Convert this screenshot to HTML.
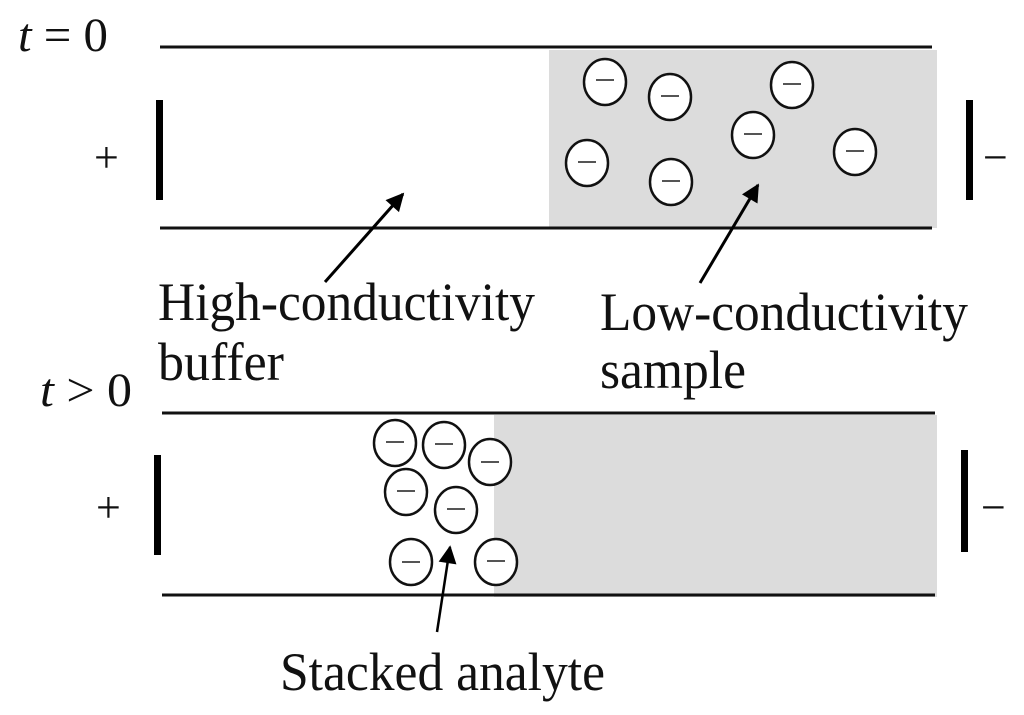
<!DOCTYPE html>
<html><head><meta charset="utf-8"><style>
html,body{margin:0;padding:0;background:#fff;width:1024px;height:715px;overflow:hidden}
text{font-family:"Liberation Serif",serif;fill:#111}
</style></head><body>
<svg width="1024" height="715" viewBox="0 0 1024 715" xmlns="http://www.w3.org/2000/svg">
<defs>
<marker id="ah2" viewBox="0 0 10 10" refX="9" refY="5" markerWidth="22" markerHeight="18" markerUnits="userSpaceOnUse" orient="auto"><path d="M0,0 L10,5 L0,10 z" fill="#000"/></marker></defs>
<!-- top panel -->
<rect x="549" y="50" width="388" height="178" fill="#dcdcdc"/>
<line x1="160" y1="47" x2="932" y2="47" stroke="#111" stroke-width="3"/>
<line x1="160" y1="228" x2="932" y2="228" stroke="#111" stroke-width="3"/>
<rect x="156" y="100" width="7" height="100" fill="#000"/>
<rect x="966" y="100" width="7" height="100" fill="#000"/>
<text x="94" y="172" font-size="44">+</text>
<text x="983" y="172" font-size="44">−</text>
<text x="18" y="51" font-size="48" textLength="90" lengthAdjust="spacingAndGlyphs"><tspan font-style="italic">t</tspan> = 0</text>
<g fill="#fff" stroke="#111" stroke-width="2.5">
<ellipse cx="605" cy="82" rx="21" ry="23"/><ellipse cx="670" cy="97" rx="21" ry="23"/>
<ellipse cx="792" cy="85" rx="21" ry="23"/><ellipse cx="753" cy="135" rx="21" ry="23"/>
<ellipse cx="855" cy="152" rx="21" ry="23"/><ellipse cx="587" cy="163" rx="21" ry="23"/>
<ellipse cx="671" cy="182" rx="21" ry="23"/>
</g>
<g stroke="#555" stroke-width="2">
<line x1="596" y1="80" x2="614" y2="80"/><line x1="661" y1="96" x2="679" y2="96"/>
<line x1="783" y1="84" x2="801" y2="84"/><line x1="744" y1="134" x2="762" y2="134"/>
<line x1="846" y1="151" x2="864" y2="151"/><line x1="578" y1="162" x2="596" y2="162"/>
<line x1="662" y1="181" x2="680" y2="181"/>
</g>
<line x1="325" y1="282" x2="403" y2="194" stroke="#000" stroke-width="3" marker-end="url(#ah2)"/>
<line x1="700" y1="283" x2="758" y2="185" stroke="#000" stroke-width="3" marker-end="url(#ah2)"/>
<text x="158" y="320" font-size="54" textLength="377" lengthAdjust="spacingAndGlyphs">High-conductivity</text>
<text x="158" y="380" font-size="54" textLength="126" lengthAdjust="spacingAndGlyphs">buffer</text>
<text x="600" y="330" font-size="54" textLength="368" lengthAdjust="spacingAndGlyphs">Low-conductivity</text>
<text x="600" y="388" font-size="54" textLength="146" lengthAdjust="spacingAndGlyphs">sample</text>
<!-- bottom panel -->
<text x="40" y="406" font-size="48" textLength="92" lengthAdjust="spacingAndGlyphs"><tspan font-style="italic">t</tspan> &gt; 0</text>
<rect x="494" y="415" width="443" height="182" fill="#dcdcdc"/>
<line x1="162" y1="413" x2="935" y2="413" stroke="#111" stroke-width="3"/>
<line x1="162" y1="595" x2="935" y2="595" stroke="#111" stroke-width="3"/>
<rect x="154" y="455" width="7" height="100" fill="#000"/>
<rect x="961" y="450" width="7" height="102" fill="#000"/>
<text x="96" y="522" font-size="44">+</text>
<text x="981" y="522" font-size="44">−</text>
<g fill="#fff" stroke="#111" stroke-width="2.5">
<ellipse cx="395" cy="443" rx="21" ry="23"/><ellipse cx="444" cy="445" rx="21" ry="23"/>
<ellipse cx="490" cy="462" rx="21" ry="23"/><ellipse cx="406" cy="492" rx="21" ry="23"/>
<ellipse cx="456" cy="510" rx="21" ry="23"/><ellipse cx="411" cy="562" rx="21" ry="23"/>
<ellipse cx="496" cy="562" rx="21" ry="23"/>
</g>
<g stroke="#555" stroke-width="2">
<line x1="386" y1="442" x2="404" y2="442"/><line x1="435" y1="444" x2="453" y2="444"/>
<line x1="481" y1="462" x2="499" y2="462"/><line x1="397" y1="491" x2="415" y2="491"/>
<line x1="447" y1="509" x2="465" y2="509"/><line x1="402" y1="562" x2="420" y2="562"/>
<line x1="487" y1="561" x2="505" y2="561"/>
</g>
<line x1="437" y1="632" x2="450" y2="547" stroke="#000" stroke-width="2.5" marker-end="url(#ah2)"/>
<text x="280" y="690" font-size="54" textLength="325" lengthAdjust="spacingAndGlyphs">Stacked analyte</text>
</svg>
</body></html>
